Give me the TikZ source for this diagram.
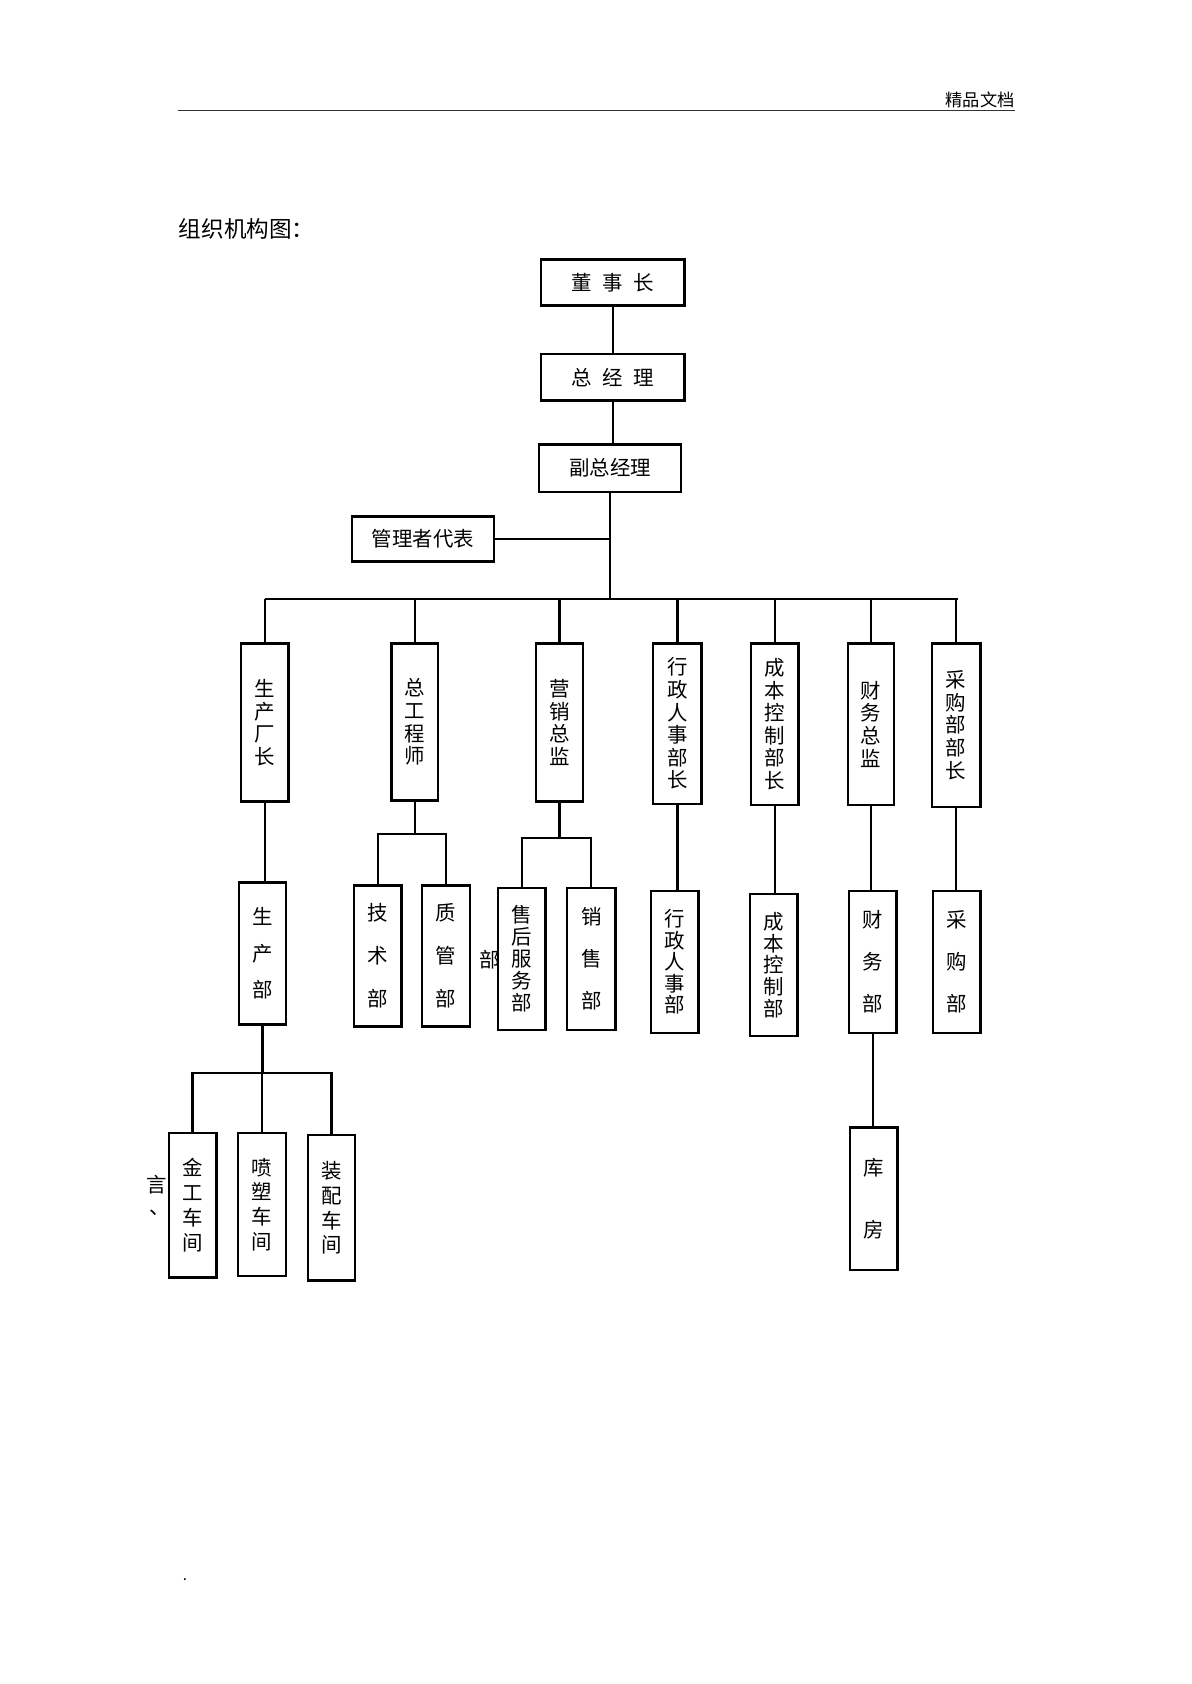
\documentclass[tikz,border=0pt]{standalone}
\usepackage{fontspec}
\setmainfont{Noto Sans CJK SC}
\begin{document}
\begin{tikzpicture}[x=1pt,y=-1pt,
  box/.style={draw, line width=2.3pt, fill=white, inner sep=0pt, align=center,
    font=\fontsize{19}{21}\selectfont},
  hbox/.style={box, minimum width=133pt, minimum height=43pt},
  vbox/.style={box, minimum width=44pt, minimum height=147pt},
  lbox/.style={box, minimum width=44pt, minimum height=132pt},
  conn/.style={line width=2.1pt},
  plain/.style={inner sep=0pt, font=\fontsize{19}{21}\selectfont}]
\useasboundingbox (0,0) rectangle (1107,1565);
\fill[white] (0,0) rectangle (1107,1565);

% header
\node[plain, font=\fontsize{16}{18}\selectfont, anchor=east] (hdr) at (943,93) {精品文档};
\draw[line width=1.1pt, black!80] (165,103) coordinate (hl) -- (943,103) coordinate (hr);
\node[plain, font=\fontsize{21}{23}\selectfont, anchor=west] (title) at (166,213) {组织机构图：};

% top chain
\node[hbox] (d1) at (569.5,262.5) {董\hspace{0.5em}事\hspace{0.5em}长};
\node[hbox] (d2) at (569.5,350.5) {总\hspace{0.5em}经\hspace{0.5em}理};
\node[hbox, minimum width=132pt, minimum height=44pt] (d3) at (567,435) {副总经理};
\node[hbox, minimum width=132pt, minimum height=42pt] (rep) at (393,501) {管理者代表};

\coordinate (bus) at (567,557);
\coordinate (busL) at (246,557);
\coordinate (busR) at (890,557);

% level 2
\node[vbox] (a) at (246,671.5) {生\\产\\厂\\长};
\node[vbox, minimum width=43pt, minimum height=146pt] (b) at (385.5,671) {总\\工\\程\\师};
\node[vbox] (c) at (520,671.5) {营\\销\\总\\监};
\node[vbox, minimum width=45pt, minimum height=149pt] (e) at (629.5,672.5) {行\\政\\人\\事\\部\\长};
\node[vbox, minimum height=150pt] (f) at (720,673) {成\\本\\控\\制\\部\\长};
\node[vbox, minimum width=43pt, minimum height=150pt] (g) at (809.5,673) {财\\务\\总\\监};
\node[vbox, minimum width=45pt, minimum height=152pt] (h) at (888.5,674) {采\\购\\部\\部\\长};

% stray text behind boxes
\node[plain] (stray) at (455,892) {部};

% level 3
\node[lbox, font=\fontsize{19}{34}\selectfont] (a1) at (244,886) {生\\产\\部};
\node[lbox, minimum height=131pt, font=\fontsize{19}{40}\selectfont] (b1) at (351,888.5) {技\\术\\部};
\node[lbox, minimum width=45pt, minimum height=131pt, font=\fontsize{19}{40}\selectfont] (b2) at (414.5,888.5) {质\\管\\部};
\node[lbox, font=\fontsize{19}{20.5}\selectfont] (c1) at (485,891) {售\\后\\服\\务\\部};
\node[lbox, minimum width=45pt, font=\fontsize{19}{39}\selectfont] (c2) at (549.5,891) {销\\售\\部};
\node[lbox, font=\fontsize{19}{20}\selectfont] (e1) at (627,894) {行\\政\\人\\事\\部};
\node[lbox, font=\fontsize{19}{20}\selectfont] (f1) at (719,897) {成\\本\\控\\制\\部};
\node[lbox, font=\fontsize{19}{39}\selectfont] (g1) at (811,894) {财\\务\\部};
\node[lbox, font=\fontsize{19}{39}\selectfont] (h1) at (889,894) {采\\购\\部};
\node[lbox, font=\fontsize{19}{58}\selectfont] (g2) at (812,1114) {库\\房};

% level 4
\node[lbox, minimum height=134pt, font=\fontsize{19}{23}\selectfont] (w1) at (179,1120) {金\\工\\车\\间};
\node[lbox, minimum width=45pt, minimum height=133pt, font=\fontsize{19}{23}\selectfont] (w2) at (243.5,1119.5) {喷\\塑\\车\\间};
\node[lbox, minimum height=135pt, font=\fontsize{19}{23}\selectfont] (w3) at (308,1122.5) {装\\配\\车\\间};

\node[plain] (yan) at (146,1101) {言};
\node[plain] (dun) at (148,1127) {、};
\node[plain, font=\fontsize{14}{16}\selectfont] (dot) at (172,1468) {.};

% junction levels
\coordinate (jb) at (0,775);
\coordinate (jc) at (0,779);
\coordinate (jw) at (0,997);

% connectors
\draw[conn] (d1.south) -- (d2.north);
\draw[conn] (d2.south) -- (d2.south |- d3.north);
\draw[conn] (d3.south) -- (bus);
\draw[conn, line width=1.6pt] (rep.east) -- (bus |- rep.east);
\draw[conn] (busL) -- (busR);
\foreach \n in {a,b,c,e,f,g,h}{
  \draw[conn] (\n.north) -- (\n.north |- bus);
}
\draw[conn] (a.south) -- (a.south |- a1.north);
\draw[conn] (b.south) -- (b.south |- jb);
\draw[conn] (b1.north) -- (b1.north |- jb) -- (b2.north |- jb) -- (b2.north);
\draw[conn] (c.south) -- (c.south |- jc);
\draw[conn] (c1.north) -- (c1.north |- jc) -- (c2.north |- jc) -- (c2.north);
\draw[conn] (e.south) -- (e.south |- e1.north);
\draw[conn] (f.south) -- (f.south |- f1.north);
\draw[conn] (g.south) -- (g.south |- g1.north);
\draw[conn] (h.south) -- (h.south |- h1.north);
\draw[conn] (g1.south) -- (g1.south |- g2.north);
\draw[conn] (a1.south) -- (a1.south |- jw);
\draw[conn] (w1.north) -- (w1.north |- jw) -- (w3.north |- jw) -- (w3.north);
\draw[conn] (w2.north) -- (w2.north |- jw);
\end{tikzpicture}
\end{document}
